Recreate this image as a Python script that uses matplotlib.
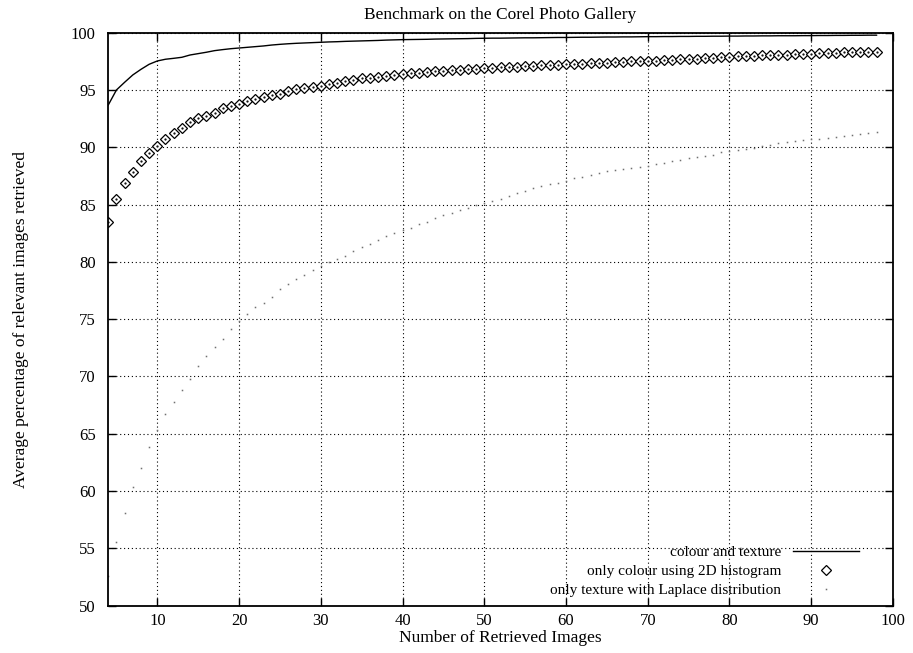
import matplotlib
matplotlib.use("Agg")
import matplotlib.pyplot as plt
import numpy as np

# number of retrieved images (x axis)
n_images = list(range(4, 99))

# colour and texture (solid line)
colour_texture = [
    93.69, 95.00, 95.67, 96.31, 96.80, 97.24, 97.53, 97.68, 97.76, 97.85,
    98.05, 98.17, 98.29, 98.43, 98.52, 98.60, 98.66, 98.72, 98.78, 98.84,
    98.92, 98.98, 99.03, 99.07, 99.10, 99.13, 99.16, 99.19, 99.21, 99.24,
    99.26, 99.28, 99.30, 99.32, 99.35, 99.37, 99.39, 99.40, 99.41, 99.42,
    99.44, 99.45, 99.46, 99.47, 99.48, 99.50, 99.51, 99.52, 99.52, 99.53,
    99.54, 99.55, 99.55, 99.56, 99.57, 99.58, 99.58, 99.59, 99.60, 99.60,
    99.61, 99.62, 99.62, 99.63, 99.63, 99.64, 99.65, 99.65, 99.66, 99.66,
    99.67, 99.67, 99.68, 99.68, 99.69, 99.69, 99.70, 99.70, 99.71, 99.71,
    99.72, 99.72, 99.73, 99.73, 99.73, 99.74, 99.74, 99.75, 99.75, 99.76,
    99.76, 99.77, 99.77, 99.78, 99.78,
]

# only colour using 2D histogram (diamonds)
colour_only = [
    83.45, 85.50, 86.86, 87.87, 88.78, 89.47, 90.14, 90.75, 91.22, 91.71,
    92.18, 92.53, 92.70, 93.02, 93.46, 93.60, 93.78, 94.04, 94.21, 94.39,
    94.56, 94.68, 94.88, 95.06, 95.20, 95.23, 95.38, 95.55, 95.64, 95.81,
    95.90, 96.00, 96.08, 96.17, 96.25, 96.33, 96.40, 96.46, 96.52, 96.58,
    96.64, 96.69, 96.73, 96.77, 96.81, 96.85, 96.89, 96.93, 96.97, 97.01,
    97.04, 97.07, 97.11, 97.14, 97.17, 97.20, 97.24, 97.26, 97.29, 97.31,
    97.34, 97.37, 97.40, 97.44, 97.49, 97.51, 97.53, 97.56, 97.60, 97.63,
    97.66, 97.69, 97.72, 97.76, 97.80, 97.86, 97.91, 97.93, 97.96, 97.98,
    98.01, 98.03, 98.06, 98.08, 98.11, 98.14, 98.18, 98.20, 98.23, 98.25,
    98.27, 98.29, 98.31, 98.32, 98.34,
]

# only texture with Laplace distribution (dots)
texture_only = [
    52.60, 55.58, 58.09, 60.33, 62.02, 63.87, 65.30, 66.75, 67.80, 68.82,
    69.78, 70.92, 71.79, 72.55, 73.30, 74.12, 74.80, 75.43, 76.04, 76.39,
    76.91, 77.60, 78.05, 78.50, 78.88, 79.29, 79.62, 79.95, 80.23, 80.52,
    80.92, 81.30, 81.60, 81.95, 82.26, 82.55, 82.75, 82.98, 83.28, 83.51,
    83.83, 84.06, 84.24, 84.53, 84.70, 84.95, 85.10, 85.29, 85.49, 85.72,
    85.98, 86.21, 86.42, 86.60, 86.80, 86.88, 87.10, 87.29, 87.43, 87.61,
    87.73, 87.91, 88.02, 88.11, 88.18, 88.28, 88.40, 88.52, 88.66, 88.78,
    88.92, 89.04, 89.15, 89.27, 89.33, 89.56, 89.65, 89.76, 89.85, 89.94,
    90.09, 90.17, 90.35, 90.44, 90.52, 90.61, 90.68, 90.75, 90.81, 90.90,
    91.01, 91.07, 91.19, 91.27, 91.33,
]

x_ticks = [10, 20, 30, 40, 50, 60, 70, 80, 90, 100]
y_ticks = [50, 55, 60, 65, 70, 75, 80, 85, 90, 95, 100]

plt.rcParams['font.family'] = ['Liberation Serif', 'DejaVu Serif']
plt.rcParams['font.size'] = 12

fig = plt.figure(figsize=(9.13, 6.53), dpi=100)
ax = fig.add_axes([0.1186, 0.0724, 0.8594, 0.8776])

ax.plot(n_images, colour_texture, color='black', lw=1.0, label='colour and texture')
ax.plot(n_images, colour_only, linestyle='none', marker='D', ms=4.6,
        mfc='white', mec='black', mew=0.9, label='only colour using 2D histogram')
ax.plot(n_images, colour_only, linestyle='none', marker='.', ms=1.2, color='black')
ax.plot(n_images, texture_only, linestyle='none', marker='s', ms=1.1,
        mfc='#707070', mec='none', label='only texture with Laplace distribution')

ax.set_xlim(4, 100)
ax.set_ylim(50, 100)
ax.set_xticks(x_ticks)
ax.set_yticks(y_ticks)

ax.grid(True, color='black', linestyle=(0, (1, 2.5)), linewidth=0.8)
ax.tick_params(direction='in', length=6, width=1.0, top=True, right=True,
               labelsize=12)
ax.tick_params(axis='x', pad=5)
ax.tick_params(axis='y', pad=9)
for s in ax.spines.values():
    s.set_linewidth(1.3)

ax.set_title('Benchmark on the Corel Photo Gallery', fontsize=12.5, pad=10)
ax.set_xlabel('Number of Retrieved Images', fontsize=12.5, labelpad=1)
ax.set_ylabel('Average percentage of relevant images retrieved', fontsize=12.5, labelpad=30)

leg = ax.legend(loc='lower right', bbox_to_anchor=(0.957, 0.015), frameon=False,
                markerfirst=False, handlelength=4.3, handletextpad=0.8,
                labelspacing=0.35, borderaxespad=0, borderpad=0,
                fontsize=11, numpoints=1)

fig.savefig('out.png', dpi=100)
